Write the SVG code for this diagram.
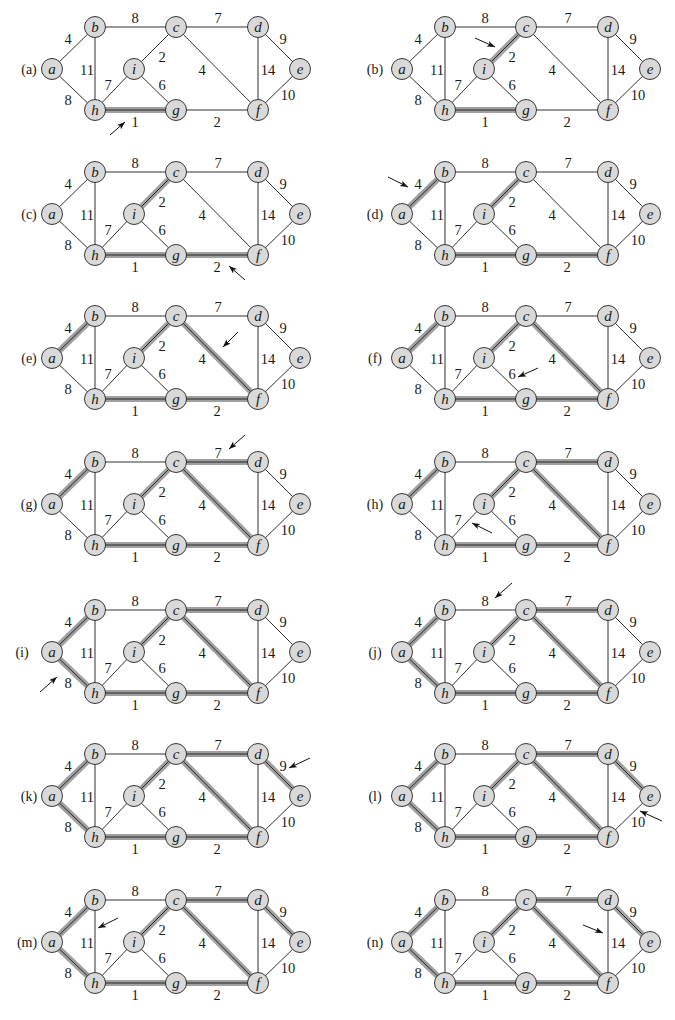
<svg xmlns="http://www.w3.org/2000/svg" width="675" height="1020" viewBox="0 0 675 1020">
<style>
.e{stroke:#1a1a1a;stroke-width:0.9;fill:none}
.hl{stroke:#a0a0a0;stroke-width:6;fill:none}
.n circle{fill:#d9d9d9;stroke:#222;stroke-width:0.9}
.nl{font-family:"Liberation Serif",serif;font-style:italic;font-size:15px;text-anchor:middle;fill:#1a1a1a}
.w{font-family:"Liberation Serif",serif;font-size:14.5px;text-anchor:middle;fill:#1a1a1a}
.pl{font-family:"Liberation Serif",serif;font-size:14px;text-anchor:middle;fill:#1a1a1a}
.arr{stroke:#111;stroke-width:1;fill:none;marker-end:url(#ah)}
</style>
<defs>
<marker id="ah" markerUnits="userSpaceOnUse" markerWidth="10" markerHeight="8" refX="8" refY="3" orient="auto">
<path d="M0,0 L8,3 L0,6 L2,3 Z" fill="#111"/>
</marker>
</defs>
<rect width="675" height="1020" fill="#fff"/>

<!-- Panel (a) -->
<g id="panel-a" transform="translate(0,0)">
<g id="pa-edges">
<line class="hl" x1="95" y1="110" x2="176" y2="110"/>
<line class="e" x1="52" y1="69" x2="95" y2="27"/><line class="e" x1="52" y1="69" x2="95" y2="110"/><line class="e" x1="95" y1="27" x2="176" y2="27"/><line class="e" x1="95" y1="27" x2="95" y2="110"/><line class="e" x1="176" y1="27" x2="258" y2="27"/><line class="e" x1="176" y1="27" x2="134" y2="69"/><line class="e" x1="176" y1="27" x2="258" y2="110"/><line class="e" x1="258" y1="27" x2="300" y2="69"/><line class="e" x1="258" y1="27" x2="258" y2="110"/><line class="e" x1="300" y1="69" x2="258" y2="110"/><line class="e" x1="258" y1="110" x2="176" y2="110"/><line class="e" x1="176" y1="110" x2="95" y2="110"/><line class="e" x1="95" y1="110" x2="134" y2="69"/><line class="e" x1="134" y1="69" x2="176" y2="110"/>
<line class="arr" x1="110" y1="135" x2="125" y2="122"/>
</g>
<g id="pa-a" class="n"><circle cx="52" cy="69" r="10.5"/><text class="nl" x="52" y="73.5">a</text></g>
<g id="pa-b" class="n"><circle cx="95" cy="27" r="10.5"/><text class="nl" x="95" y="31.5">b</text></g>
<g id="pa-c" class="n"><circle cx="176" cy="27" r="10.5"/><text class="nl" x="176" y="31.5">c</text></g>
<g id="pa-d" class="n"><circle cx="258" cy="27" r="10.5"/><text class="nl" x="258" y="31.5">d</text></g>
<g id="pa-e" class="n"><circle cx="300" cy="69" r="10.5"/><text class="nl" x="300" y="73.5">e</text></g>
<g id="pa-f" class="n"><circle cx="258" cy="110" r="10.5"/><text class="nl" x="258" y="114.5">f</text></g>
<g id="pa-g" class="n"><circle cx="176" cy="110" r="10.5"/><text class="nl" x="176" y="114.5">g</text></g>
<g id="pa-h" class="n"><circle cx="95" cy="110" r="10.5"/><text class="nl" x="95" y="114.5">h</text></g>
<g id="pa-i" class="n"><circle cx="134" cy="69" r="10.5"/><text class="nl" x="134" y="73.5">i</text></g>
<g id="pa-labels">
<text class="pl" x="29" y="73.5">(a)</text>
<text class="w" x="68" y="44">4</text><text class="w" x="68" y="105">8</text><text class="w" x="135" y="23">8</text><text class="w" x="87" y="75">11</text><text class="w" x="218" y="23">7</text><text class="w" x="162" y="62">2</text><text class="w" x="202" y="75">4</text><text class="w" x="283" y="44">9</text><text class="w" x="268" y="75">14</text><text class="w" x="288" y="100">10</text><text class="w" x="217" y="127">2</text><text class="w" x="135" y="127">1</text><text class="w" x="108" y="90">7</text><text class="w" x="162" y="90">6</text>
</g>
</g>

<!-- Panel (b) -->
<g id="panel-b" transform="translate(350,0)">
<g id="pb-edges">
<line class="hl" x1="95" y1="110" x2="176" y2="110"/><line class="hl" x1="176" y1="27" x2="134" y2="69"/>
<line class="e" x1="52" y1="69" x2="95" y2="27"/><line class="e" x1="52" y1="69" x2="95" y2="110"/><line class="e" x1="95" y1="27" x2="176" y2="27"/><line class="e" x1="95" y1="27" x2="95" y2="110"/><line class="e" x1="176" y1="27" x2="258" y2="27"/><line class="e" x1="176" y1="27" x2="134" y2="69"/><line class="e" x1="176" y1="27" x2="258" y2="110"/><line class="e" x1="258" y1="27" x2="300" y2="69"/><line class="e" x1="258" y1="27" x2="258" y2="110"/><line class="e" x1="300" y1="69" x2="258" y2="110"/><line class="e" x1="258" y1="110" x2="176" y2="110"/><line class="e" x1="176" y1="110" x2="95" y2="110"/><line class="e" x1="95" y1="110" x2="134" y2="69"/><line class="e" x1="134" y1="69" x2="176" y2="110"/>
<line class="arr" x1="125" y1="38" x2="145" y2="47"/>
</g>
<g id="pb-a" class="n"><circle cx="52" cy="69" r="10.5"/><text class="nl" x="52" y="73.5">a</text></g>
<g id="pb-b" class="n"><circle cx="95" cy="27" r="10.5"/><text class="nl" x="95" y="31.5">b</text></g>
<g id="pb-c" class="n"><circle cx="176" cy="27" r="10.5"/><text class="nl" x="176" y="31.5">c</text></g>
<g id="pb-d" class="n"><circle cx="258" cy="27" r="10.5"/><text class="nl" x="258" y="31.5">d</text></g>
<g id="pb-e" class="n"><circle cx="300" cy="69" r="10.5"/><text class="nl" x="300" y="73.5">e</text></g>
<g id="pb-f" class="n"><circle cx="258" cy="110" r="10.5"/><text class="nl" x="258" y="114.5">f</text></g>
<g id="pb-g" class="n"><circle cx="176" cy="110" r="10.5"/><text class="nl" x="176" y="114.5">g</text></g>
<g id="pb-h" class="n"><circle cx="95" cy="110" r="10.5"/><text class="nl" x="95" y="114.5">h</text></g>
<g id="pb-i" class="n"><circle cx="134" cy="69" r="10.5"/><text class="nl" x="134" y="73.5">i</text></g>
<g id="pb-labels">
<text class="pl" x="25" y="73.5">(b)</text>
<text class="w" x="68" y="44">4</text><text class="w" x="68" y="105">8</text><text class="w" x="135" y="23">8</text><text class="w" x="87" y="75">11</text><text class="w" x="218" y="23">7</text><text class="w" x="162" y="62">2</text><text class="w" x="202" y="75">4</text><text class="w" x="283" y="44">9</text><text class="w" x="268" y="75">14</text><text class="w" x="288" y="100">10</text><text class="w" x="217" y="127">2</text><text class="w" x="135" y="127">1</text><text class="w" x="108" y="90">7</text><text class="w" x="162" y="90">6</text>
</g>
</g>

<!-- Panel (c) -->
<g id="panel-c" transform="translate(0,145)">
<g id="pc-edges">
<line class="hl" x1="95" y1="110" x2="176" y2="110"/><line class="hl" x1="176" y1="27" x2="134" y2="69"/><line class="hl" x1="258" y1="110" x2="176" y2="110"/>
<line class="e" x1="52" y1="69" x2="95" y2="27"/><line class="e" x1="52" y1="69" x2="95" y2="110"/><line class="e" x1="95" y1="27" x2="176" y2="27"/><line class="e" x1="95" y1="27" x2="95" y2="110"/><line class="e" x1="176" y1="27" x2="258" y2="27"/><line class="e" x1="176" y1="27" x2="134" y2="69"/><line class="e" x1="176" y1="27" x2="258" y2="110"/><line class="e" x1="258" y1="27" x2="300" y2="69"/><line class="e" x1="258" y1="27" x2="258" y2="110"/><line class="e" x1="300" y1="69" x2="258" y2="110"/><line class="e" x1="258" y1="110" x2="176" y2="110"/><line class="e" x1="176" y1="110" x2="95" y2="110"/><line class="e" x1="95" y1="110" x2="134" y2="69"/><line class="e" x1="134" y1="69" x2="176" y2="110"/>
<line class="arr" x1="245" y1="135" x2="229" y2="121"/>
</g>
<g id="pc-a" class="n"><circle cx="52" cy="69" r="10.5"/><text class="nl" x="52" y="73.5">a</text></g>
<g id="pc-b" class="n"><circle cx="95" cy="27" r="10.5"/><text class="nl" x="95" y="31.5">b</text></g>
<g id="pc-c" class="n"><circle cx="176" cy="27" r="10.5"/><text class="nl" x="176" y="31.5">c</text></g>
<g id="pc-d" class="n"><circle cx="258" cy="27" r="10.5"/><text class="nl" x="258" y="31.5">d</text></g>
<g id="pc-e" class="n"><circle cx="300" cy="69" r="10.5"/><text class="nl" x="300" y="73.5">e</text></g>
<g id="pc-f" class="n"><circle cx="258" cy="110" r="10.5"/><text class="nl" x="258" y="114.5">f</text></g>
<g id="pc-g" class="n"><circle cx="176" cy="110" r="10.5"/><text class="nl" x="176" y="114.5">g</text></g>
<g id="pc-h" class="n"><circle cx="95" cy="110" r="10.5"/><text class="nl" x="95" y="114.5">h</text></g>
<g id="pc-i" class="n"><circle cx="134" cy="69" r="10.5"/><text class="nl" x="134" y="73.5">i</text></g>
<g id="pc-labels">
<text class="pl" x="29" y="73.5">(c)</text>
<text class="w" x="68" y="44">4</text><text class="w" x="68" y="105">8</text><text class="w" x="135" y="23">8</text><text class="w" x="87" y="75">11</text><text class="w" x="218" y="23">7</text><text class="w" x="162" y="62">2</text><text class="w" x="202" y="75">4</text><text class="w" x="283" y="44">9</text><text class="w" x="268" y="75">14</text><text class="w" x="288" y="100">10</text><text class="w" x="217" y="127">2</text><text class="w" x="135" y="127">1</text><text class="w" x="108" y="90">7</text><text class="w" x="162" y="90">6</text>
</g>
</g>

<!-- Panel (d) -->
<g id="panel-d" transform="translate(350,145)">
<g id="pd-edges">
<line class="hl" x1="95" y1="110" x2="176" y2="110"/><line class="hl" x1="176" y1="27" x2="134" y2="69"/><line class="hl" x1="258" y1="110" x2="176" y2="110"/><line class="hl" x1="52" y1="69" x2="95" y2="27"/>
<line class="e" x1="52" y1="69" x2="95" y2="27"/><line class="e" x1="52" y1="69" x2="95" y2="110"/><line class="e" x1="95" y1="27" x2="176" y2="27"/><line class="e" x1="95" y1="27" x2="95" y2="110"/><line class="e" x1="176" y1="27" x2="258" y2="27"/><line class="e" x1="176" y1="27" x2="134" y2="69"/><line class="e" x1="176" y1="27" x2="258" y2="110"/><line class="e" x1="258" y1="27" x2="300" y2="69"/><line class="e" x1="258" y1="27" x2="258" y2="110"/><line class="e" x1="300" y1="69" x2="258" y2="110"/><line class="e" x1="258" y1="110" x2="176" y2="110"/><line class="e" x1="176" y1="110" x2="95" y2="110"/><line class="e" x1="95" y1="110" x2="134" y2="69"/><line class="e" x1="134" y1="69" x2="176" y2="110"/>
<line class="arr" x1="38" y1="32" x2="58" y2="42"/>
</g>
<g id="pd-a" class="n"><circle cx="52" cy="69" r="10.5"/><text class="nl" x="52" y="73.5">a</text></g>
<g id="pd-b" class="n"><circle cx="95" cy="27" r="10.5"/><text class="nl" x="95" y="31.5">b</text></g>
<g id="pd-c" class="n"><circle cx="176" cy="27" r="10.5"/><text class="nl" x="176" y="31.5">c</text></g>
<g id="pd-d" class="n"><circle cx="258" cy="27" r="10.5"/><text class="nl" x="258" y="31.5">d</text></g>
<g id="pd-e" class="n"><circle cx="300" cy="69" r="10.5"/><text class="nl" x="300" y="73.5">e</text></g>
<g id="pd-f" class="n"><circle cx="258" cy="110" r="10.5"/><text class="nl" x="258" y="114.5">f</text></g>
<g id="pd-g" class="n"><circle cx="176" cy="110" r="10.5"/><text class="nl" x="176" y="114.5">g</text></g>
<g id="pd-h" class="n"><circle cx="95" cy="110" r="10.5"/><text class="nl" x="95" y="114.5">h</text></g>
<g id="pd-i" class="n"><circle cx="134" cy="69" r="10.5"/><text class="nl" x="134" y="73.5">i</text></g>
<g id="pd-labels">
<text class="pl" x="25" y="73.5">(d)</text>
<text class="w" x="68" y="44">4</text><text class="w" x="68" y="105">8</text><text class="w" x="135" y="23">8</text><text class="w" x="87" y="75">11</text><text class="w" x="218" y="23">7</text><text class="w" x="162" y="62">2</text><text class="w" x="202" y="75">4</text><text class="w" x="283" y="44">9</text><text class="w" x="268" y="75">14</text><text class="w" x="288" y="100">10</text><text class="w" x="217" y="127">2</text><text class="w" x="135" y="127">1</text><text class="w" x="108" y="90">7</text><text class="w" x="162" y="90">6</text>
</g>
</g>

<!-- Panel (e) -->
<g id="panel-e" transform="translate(0,289)">
<g id="pe-edges">
<line class="hl" x1="95" y1="110" x2="176" y2="110"/><line class="hl" x1="176" y1="27" x2="134" y2="69"/><line class="hl" x1="258" y1="110" x2="176" y2="110"/><line class="hl" x1="52" y1="69" x2="95" y2="27"/><line class="hl" x1="176" y1="27" x2="258" y2="110"/>
<line class="e" x1="52" y1="69" x2="95" y2="27"/><line class="e" x1="52" y1="69" x2="95" y2="110"/><line class="e" x1="95" y1="27" x2="176" y2="27"/><line class="e" x1="95" y1="27" x2="95" y2="110"/><line class="e" x1="176" y1="27" x2="258" y2="27"/><line class="e" x1="176" y1="27" x2="134" y2="69"/><line class="e" x1="176" y1="27" x2="258" y2="110"/><line class="e" x1="258" y1="27" x2="300" y2="69"/><line class="e" x1="258" y1="27" x2="258" y2="110"/><line class="e" x1="300" y1="69" x2="258" y2="110"/><line class="e" x1="258" y1="110" x2="176" y2="110"/><line class="e" x1="176" y1="110" x2="95" y2="110"/><line class="e" x1="95" y1="110" x2="134" y2="69"/><line class="e" x1="134" y1="69" x2="176" y2="110"/>
<line class="arr" x1="238" y1="43" x2="223" y2="58"/>
</g>
<g id="pe-a" class="n"><circle cx="52" cy="69" r="10.5"/><text class="nl" x="52" y="73.5">a</text></g>
<g id="pe-b" class="n"><circle cx="95" cy="27" r="10.5"/><text class="nl" x="95" y="31.5">b</text></g>
<g id="pe-c" class="n"><circle cx="176" cy="27" r="10.5"/><text class="nl" x="176" y="31.5">c</text></g>
<g id="pe-d" class="n"><circle cx="258" cy="27" r="10.5"/><text class="nl" x="258" y="31.5">d</text></g>
<g id="pe-e" class="n"><circle cx="300" cy="69" r="10.5"/><text class="nl" x="300" y="73.5">e</text></g>
<g id="pe-f" class="n"><circle cx="258" cy="110" r="10.5"/><text class="nl" x="258" y="114.5">f</text></g>
<g id="pe-g" class="n"><circle cx="176" cy="110" r="10.5"/><text class="nl" x="176" y="114.5">g</text></g>
<g id="pe-h" class="n"><circle cx="95" cy="110" r="10.5"/><text class="nl" x="95" y="114.5">h</text></g>
<g id="pe-i" class="n"><circle cx="134" cy="69" r="10.5"/><text class="nl" x="134" y="73.5">i</text></g>
<g id="pe-labels">
<text class="pl" x="29" y="73.5">(e)</text>
<text class="w" x="68" y="44">4</text><text class="w" x="68" y="105">8</text><text class="w" x="135" y="23">8</text><text class="w" x="87" y="75">11</text><text class="w" x="218" y="23">7</text><text class="w" x="162" y="62">2</text><text class="w" x="202" y="75">4</text><text class="w" x="283" y="44">9</text><text class="w" x="268" y="75">14</text><text class="w" x="288" y="100">10</text><text class="w" x="217" y="127">2</text><text class="w" x="135" y="127">1</text><text class="w" x="108" y="90">7</text><text class="w" x="162" y="90">6</text>
</g>
</g>

<!-- Panel (f) -->
<g id="panel-f" transform="translate(350,289)">
<g id="pf-edges">
<line class="hl" x1="95" y1="110" x2="176" y2="110"/><line class="hl" x1="176" y1="27" x2="134" y2="69"/><line class="hl" x1="258" y1="110" x2="176" y2="110"/><line class="hl" x1="52" y1="69" x2="95" y2="27"/><line class="hl" x1="176" y1="27" x2="258" y2="110"/>
<line class="e" x1="52" y1="69" x2="95" y2="27"/><line class="e" x1="52" y1="69" x2="95" y2="110"/><line class="e" x1="95" y1="27" x2="176" y2="27"/><line class="e" x1="95" y1="27" x2="95" y2="110"/><line class="e" x1="176" y1="27" x2="258" y2="27"/><line class="e" x1="176" y1="27" x2="134" y2="69"/><line class="e" x1="176" y1="27" x2="258" y2="110"/><line class="e" x1="258" y1="27" x2="300" y2="69"/><line class="e" x1="258" y1="27" x2="258" y2="110"/><line class="e" x1="300" y1="69" x2="258" y2="110"/><line class="e" x1="258" y1="110" x2="176" y2="110"/><line class="e" x1="176" y1="110" x2="95" y2="110"/><line class="e" x1="95" y1="110" x2="134" y2="69"/><line class="e" x1="134" y1="69" x2="176" y2="110"/>
<line class="arr" x1="188" y1="79" x2="168" y2="88"/>
</g>
<g id="pf-a" class="n"><circle cx="52" cy="69" r="10.5"/><text class="nl" x="52" y="73.5">a</text></g>
<g id="pf-b" class="n"><circle cx="95" cy="27" r="10.5"/><text class="nl" x="95" y="31.5">b</text></g>
<g id="pf-c" class="n"><circle cx="176" cy="27" r="10.5"/><text class="nl" x="176" y="31.5">c</text></g>
<g id="pf-d" class="n"><circle cx="258" cy="27" r="10.5"/><text class="nl" x="258" y="31.5">d</text></g>
<g id="pf-e" class="n"><circle cx="300" cy="69" r="10.5"/><text class="nl" x="300" y="73.5">e</text></g>
<g id="pf-f" class="n"><circle cx="258" cy="110" r="10.5"/><text class="nl" x="258" y="114.5">f</text></g>
<g id="pf-g" class="n"><circle cx="176" cy="110" r="10.5"/><text class="nl" x="176" y="114.5">g</text></g>
<g id="pf-h" class="n"><circle cx="95" cy="110" r="10.5"/><text class="nl" x="95" y="114.5">h</text></g>
<g id="pf-i" class="n"><circle cx="134" cy="69" r="10.5"/><text class="nl" x="134" y="73.5">i</text></g>
<g id="pf-labels">
<text class="pl" x="25" y="73.5">(f)</text>
<text class="w" x="68" y="44">4</text><text class="w" x="68" y="105">8</text><text class="w" x="135" y="23">8</text><text class="w" x="87" y="75">11</text><text class="w" x="218" y="23">7</text><text class="w" x="162" y="62">2</text><text class="w" x="202" y="75">4</text><text class="w" x="283" y="44">9</text><text class="w" x="268" y="75">14</text><text class="w" x="288" y="100">10</text><text class="w" x="217" y="127">2</text><text class="w" x="135" y="127">1</text><text class="w" x="108" y="90">7</text><text class="w" x="162" y="90">6</text>
</g>
</g>

<!-- Panel (g) -->
<g id="panel-g" transform="translate(0,435)">
<g id="pg-edges">
<line class="hl" x1="95" y1="110" x2="176" y2="110"/><line class="hl" x1="176" y1="27" x2="134" y2="69"/><line class="hl" x1="258" y1="110" x2="176" y2="110"/><line class="hl" x1="52" y1="69" x2="95" y2="27"/><line class="hl" x1="176" y1="27" x2="258" y2="110"/><line class="hl" x1="176" y1="27" x2="258" y2="27"/>
<line class="e" x1="52" y1="69" x2="95" y2="27"/><line class="e" x1="52" y1="69" x2="95" y2="110"/><line class="e" x1="95" y1="27" x2="176" y2="27"/><line class="e" x1="95" y1="27" x2="95" y2="110"/><line class="e" x1="176" y1="27" x2="258" y2="27"/><line class="e" x1="176" y1="27" x2="134" y2="69"/><line class="e" x1="176" y1="27" x2="258" y2="110"/><line class="e" x1="258" y1="27" x2="300" y2="69"/><line class="e" x1="258" y1="27" x2="258" y2="110"/><line class="e" x1="300" y1="69" x2="258" y2="110"/><line class="e" x1="258" y1="110" x2="176" y2="110"/><line class="e" x1="176" y1="110" x2="95" y2="110"/><line class="e" x1="95" y1="110" x2="134" y2="69"/><line class="e" x1="134" y1="69" x2="176" y2="110"/>
<line class="arr" x1="245" y1="0" x2="229" y2="14"/>
</g>
<g id="pg-a" class="n"><circle cx="52" cy="69" r="10.5"/><text class="nl" x="52" y="73.5">a</text></g>
<g id="pg-b" class="n"><circle cx="95" cy="27" r="10.5"/><text class="nl" x="95" y="31.5">b</text></g>
<g id="pg-c" class="n"><circle cx="176" cy="27" r="10.5"/><text class="nl" x="176" y="31.5">c</text></g>
<g id="pg-d" class="n"><circle cx="258" cy="27" r="10.5"/><text class="nl" x="258" y="31.5">d</text></g>
<g id="pg-e" class="n"><circle cx="300" cy="69" r="10.5"/><text class="nl" x="300" y="73.5">e</text></g>
<g id="pg-f" class="n"><circle cx="258" cy="110" r="10.5"/><text class="nl" x="258" y="114.5">f</text></g>
<g id="pg-g" class="n"><circle cx="176" cy="110" r="10.5"/><text class="nl" x="176" y="114.5">g</text></g>
<g id="pg-h" class="n"><circle cx="95" cy="110" r="10.5"/><text class="nl" x="95" y="114.5">h</text></g>
<g id="pg-i" class="n"><circle cx="134" cy="69" r="10.5"/><text class="nl" x="134" y="73.5">i</text></g>
<g id="pg-labels">
<text class="pl" x="29" y="73.5">(g)</text>
<text class="w" x="68" y="44">4</text><text class="w" x="68" y="105">8</text><text class="w" x="135" y="23">8</text><text class="w" x="87" y="75">11</text><text class="w" x="218" y="23">7</text><text class="w" x="162" y="62">2</text><text class="w" x="202" y="75">4</text><text class="w" x="283" y="44">9</text><text class="w" x="268" y="75">14</text><text class="w" x="288" y="100">10</text><text class="w" x="217" y="127">2</text><text class="w" x="135" y="127">1</text><text class="w" x="108" y="90">7</text><text class="w" x="162" y="90">6</text>
</g>
</g>

<!-- Panel (h) -->
<g id="panel-h" transform="translate(350,435)">
<g id="ph-edges">
<line class="hl" x1="95" y1="110" x2="176" y2="110"/><line class="hl" x1="176" y1="27" x2="134" y2="69"/><line class="hl" x1="258" y1="110" x2="176" y2="110"/><line class="hl" x1="52" y1="69" x2="95" y2="27"/><line class="hl" x1="176" y1="27" x2="258" y2="110"/><line class="hl" x1="176" y1="27" x2="258" y2="27"/>
<line class="e" x1="52" y1="69" x2="95" y2="27"/><line class="e" x1="52" y1="69" x2="95" y2="110"/><line class="e" x1="95" y1="27" x2="176" y2="27"/><line class="e" x1="95" y1="27" x2="95" y2="110"/><line class="e" x1="176" y1="27" x2="258" y2="27"/><line class="e" x1="176" y1="27" x2="134" y2="69"/><line class="e" x1="176" y1="27" x2="258" y2="110"/><line class="e" x1="258" y1="27" x2="300" y2="69"/><line class="e" x1="258" y1="27" x2="258" y2="110"/><line class="e" x1="300" y1="69" x2="258" y2="110"/><line class="e" x1="258" y1="110" x2="176" y2="110"/><line class="e" x1="176" y1="110" x2="95" y2="110"/><line class="e" x1="95" y1="110" x2="134" y2="69"/><line class="e" x1="134" y1="69" x2="176" y2="110"/>
<line class="arr" x1="142" y1="98" x2="122" y2="88"/>
</g>
<g id="ph-a" class="n"><circle cx="52" cy="69" r="10.5"/><text class="nl" x="52" y="73.5">a</text></g>
<g id="ph-b" class="n"><circle cx="95" cy="27" r="10.5"/><text class="nl" x="95" y="31.5">b</text></g>
<g id="ph-c" class="n"><circle cx="176" cy="27" r="10.5"/><text class="nl" x="176" y="31.5">c</text></g>
<g id="ph-d" class="n"><circle cx="258" cy="27" r="10.5"/><text class="nl" x="258" y="31.5">d</text></g>
<g id="ph-e" class="n"><circle cx="300" cy="69" r="10.5"/><text class="nl" x="300" y="73.5">e</text></g>
<g id="ph-f" class="n"><circle cx="258" cy="110" r="10.5"/><text class="nl" x="258" y="114.5">f</text></g>
<g id="ph-g" class="n"><circle cx="176" cy="110" r="10.5"/><text class="nl" x="176" y="114.5">g</text></g>
<g id="ph-h" class="n"><circle cx="95" cy="110" r="10.5"/><text class="nl" x="95" y="114.5">h</text></g>
<g id="ph-i" class="n"><circle cx="134" cy="69" r="10.5"/><text class="nl" x="134" y="73.5">i</text></g>
<g id="ph-labels">
<text class="pl" x="25" y="73.5">(h)</text>
<text class="w" x="68" y="44">4</text><text class="w" x="68" y="105">8</text><text class="w" x="135" y="23">8</text><text class="w" x="87" y="75">11</text><text class="w" x="218" y="23">7</text><text class="w" x="162" y="62">2</text><text class="w" x="202" y="75">4</text><text class="w" x="283" y="44">9</text><text class="w" x="268" y="75">14</text><text class="w" x="288" y="100">10</text><text class="w" x="217" y="127">2</text><text class="w" x="135" y="127">1</text><text class="w" x="108" y="90">7</text><text class="w" x="162" y="90">6</text>
</g>
</g>

<!-- Panel (i) -->
<g id="panel-i" transform="translate(0,583)">
<g id="pi-edges">
<line class="hl" x1="95" y1="110" x2="176" y2="110"/><line class="hl" x1="176" y1="27" x2="134" y2="69"/><line class="hl" x1="258" y1="110" x2="176" y2="110"/><line class="hl" x1="52" y1="69" x2="95" y2="27"/><line class="hl" x1="176" y1="27" x2="258" y2="110"/><line class="hl" x1="176" y1="27" x2="258" y2="27"/><line class="hl" x1="52" y1="69" x2="95" y2="110"/>
<line class="e" x1="52" y1="69" x2="95" y2="27"/><line class="e" x1="52" y1="69" x2="95" y2="110"/><line class="e" x1="95" y1="27" x2="176" y2="27"/><line class="e" x1="95" y1="27" x2="95" y2="110"/><line class="e" x1="176" y1="27" x2="258" y2="27"/><line class="e" x1="176" y1="27" x2="134" y2="69"/><line class="e" x1="176" y1="27" x2="258" y2="110"/><line class="e" x1="258" y1="27" x2="300" y2="69"/><line class="e" x1="258" y1="27" x2="258" y2="110"/><line class="e" x1="300" y1="69" x2="258" y2="110"/><line class="e" x1="258" y1="110" x2="176" y2="110"/><line class="e" x1="176" y1="110" x2="95" y2="110"/><line class="e" x1="95" y1="110" x2="134" y2="69"/><line class="e" x1="134" y1="69" x2="176" y2="110"/>
<line class="arr" x1="40" y1="109" x2="57" y2="94"/>
</g>
<g id="pi-a" class="n"><circle cx="52" cy="69" r="10.5"/><text class="nl" x="52" y="73.5">a</text></g>
<g id="pi-b" class="n"><circle cx="95" cy="27" r="10.5"/><text class="nl" x="95" y="31.5">b</text></g>
<g id="pi-c" class="n"><circle cx="176" cy="27" r="10.5"/><text class="nl" x="176" y="31.5">c</text></g>
<g id="pi-d" class="n"><circle cx="258" cy="27" r="10.5"/><text class="nl" x="258" y="31.5">d</text></g>
<g id="pi-e" class="n"><circle cx="300" cy="69" r="10.5"/><text class="nl" x="300" y="73.5">e</text></g>
<g id="pi-f" class="n"><circle cx="258" cy="110" r="10.5"/><text class="nl" x="258" y="114.5">f</text></g>
<g id="pi-g" class="n"><circle cx="176" cy="110" r="10.5"/><text class="nl" x="176" y="114.5">g</text></g>
<g id="pi-h" class="n"><circle cx="95" cy="110" r="10.5"/><text class="nl" x="95" y="114.5">h</text></g>
<g id="pi-i" class="n"><circle cx="134" cy="69" r="10.5"/><text class="nl" x="134" y="73.5">i</text></g>
<g id="pi-labels">
<text class="pl" x="22" y="73.5">(i)</text>
<text class="w" x="68" y="44">4</text><text class="w" x="68" y="105">8</text><text class="w" x="135" y="23">8</text><text class="w" x="87" y="75">11</text><text class="w" x="218" y="23">7</text><text class="w" x="162" y="62">2</text><text class="w" x="202" y="75">4</text><text class="w" x="283" y="44">9</text><text class="w" x="268" y="75">14</text><text class="w" x="288" y="100">10</text><text class="w" x="217" y="127">2</text><text class="w" x="135" y="127">1</text><text class="w" x="108" y="90">7</text><text class="w" x="162" y="90">6</text>
</g>
</g>

<!-- Panel (j) -->
<g id="panel-j" transform="translate(350,583)">
<g id="pj-edges">
<line class="hl" x1="95" y1="110" x2="176" y2="110"/><line class="hl" x1="176" y1="27" x2="134" y2="69"/><line class="hl" x1="258" y1="110" x2="176" y2="110"/><line class="hl" x1="52" y1="69" x2="95" y2="27"/><line class="hl" x1="176" y1="27" x2="258" y2="110"/><line class="hl" x1="176" y1="27" x2="258" y2="27"/><line class="hl" x1="52" y1="69" x2="95" y2="110"/>
<line class="e" x1="52" y1="69" x2="95" y2="27"/><line class="e" x1="52" y1="69" x2="95" y2="110"/><line class="e" x1="95" y1="27" x2="176" y2="27"/><line class="e" x1="95" y1="27" x2="95" y2="110"/><line class="e" x1="176" y1="27" x2="258" y2="27"/><line class="e" x1="176" y1="27" x2="134" y2="69"/><line class="e" x1="176" y1="27" x2="258" y2="110"/><line class="e" x1="258" y1="27" x2="300" y2="69"/><line class="e" x1="258" y1="27" x2="258" y2="110"/><line class="e" x1="300" y1="69" x2="258" y2="110"/><line class="e" x1="258" y1="110" x2="176" y2="110"/><line class="e" x1="176" y1="110" x2="95" y2="110"/><line class="e" x1="95" y1="110" x2="134" y2="69"/><line class="e" x1="134" y1="69" x2="176" y2="110"/>
<line class="arr" x1="162" y1="0" x2="145" y2="15"/>
</g>
<g id="pj-a" class="n"><circle cx="52" cy="69" r="10.5"/><text class="nl" x="52" y="73.5">a</text></g>
<g id="pj-b" class="n"><circle cx="95" cy="27" r="10.5"/><text class="nl" x="95" y="31.5">b</text></g>
<g id="pj-c" class="n"><circle cx="176" cy="27" r="10.5"/><text class="nl" x="176" y="31.5">c</text></g>
<g id="pj-d" class="n"><circle cx="258" cy="27" r="10.5"/><text class="nl" x="258" y="31.5">d</text></g>
<g id="pj-e" class="n"><circle cx="300" cy="69" r="10.5"/><text class="nl" x="300" y="73.5">e</text></g>
<g id="pj-f" class="n"><circle cx="258" cy="110" r="10.5"/><text class="nl" x="258" y="114.5">f</text></g>
<g id="pj-g" class="n"><circle cx="176" cy="110" r="10.5"/><text class="nl" x="176" y="114.5">g</text></g>
<g id="pj-h" class="n"><circle cx="95" cy="110" r="10.5"/><text class="nl" x="95" y="114.5">h</text></g>
<g id="pj-i" class="n"><circle cx="134" cy="69" r="10.5"/><text class="nl" x="134" y="73.5">i</text></g>
<g id="pj-labels">
<text class="pl" x="25" y="73.5">(j)</text>
<text class="w" x="68" y="44">4</text><text class="w" x="68" y="105">8</text><text class="w" x="135" y="23">8</text><text class="w" x="87" y="75">11</text><text class="w" x="218" y="23">7</text><text class="w" x="162" y="62">2</text><text class="w" x="202" y="75">4</text><text class="w" x="283" y="44">9</text><text class="w" x="268" y="75">14</text><text class="w" x="288" y="100">10</text><text class="w" x="217" y="127">2</text><text class="w" x="135" y="127">1</text><text class="w" x="108" y="90">7</text><text class="w" x="162" y="90">6</text>
</g>
</g>

<!-- Panel (k) -->
<g id="panel-k" transform="translate(0,727)">
<g id="pk-edges">
<line class="hl" x1="95" y1="110" x2="176" y2="110"/><line class="hl" x1="176" y1="27" x2="134" y2="69"/><line class="hl" x1="258" y1="110" x2="176" y2="110"/><line class="hl" x1="52" y1="69" x2="95" y2="27"/><line class="hl" x1="176" y1="27" x2="258" y2="110"/><line class="hl" x1="176" y1="27" x2="258" y2="27"/><line class="hl" x1="52" y1="69" x2="95" y2="110"/><line class="hl" x1="258" y1="27" x2="300" y2="69"/>
<line class="e" x1="52" y1="69" x2="95" y2="27"/><line class="e" x1="52" y1="69" x2="95" y2="110"/><line class="e" x1="95" y1="27" x2="176" y2="27"/><line class="e" x1="95" y1="27" x2="95" y2="110"/><line class="e" x1="176" y1="27" x2="258" y2="27"/><line class="e" x1="176" y1="27" x2="134" y2="69"/><line class="e" x1="176" y1="27" x2="258" y2="110"/><line class="e" x1="258" y1="27" x2="300" y2="69"/><line class="e" x1="258" y1="27" x2="258" y2="110"/><line class="e" x1="300" y1="69" x2="258" y2="110"/><line class="e" x1="258" y1="110" x2="176" y2="110"/><line class="e" x1="176" y1="110" x2="95" y2="110"/><line class="e" x1="95" y1="110" x2="134" y2="69"/><line class="e" x1="134" y1="69" x2="176" y2="110"/>
<line class="arr" x1="310" y1="31" x2="289" y2="41"/>
</g>
<g id="pk-a" class="n"><circle cx="52" cy="69" r="10.5"/><text class="nl" x="52" y="73.5">a</text></g>
<g id="pk-b" class="n"><circle cx="95" cy="27" r="10.5"/><text class="nl" x="95" y="31.5">b</text></g>
<g id="pk-c" class="n"><circle cx="176" cy="27" r="10.5"/><text class="nl" x="176" y="31.5">c</text></g>
<g id="pk-d" class="n"><circle cx="258" cy="27" r="10.5"/><text class="nl" x="258" y="31.5">d</text></g>
<g id="pk-e" class="n"><circle cx="300" cy="69" r="10.5"/><text class="nl" x="300" y="73.5">e</text></g>
<g id="pk-f" class="n"><circle cx="258" cy="110" r="10.5"/><text class="nl" x="258" y="114.5">f</text></g>
<g id="pk-g" class="n"><circle cx="176" cy="110" r="10.5"/><text class="nl" x="176" y="114.5">g</text></g>
<g id="pk-h" class="n"><circle cx="95" cy="110" r="10.5"/><text class="nl" x="95" y="114.5">h</text></g>
<g id="pk-i" class="n"><circle cx="134" cy="69" r="10.5"/><text class="nl" x="134" y="73.5">i</text></g>
<g id="pk-labels">
<text class="pl" x="29" y="73.5">(k)</text>
<text class="w" x="68" y="44">4</text><text class="w" x="68" y="105">8</text><text class="w" x="135" y="23">8</text><text class="w" x="87" y="75">11</text><text class="w" x="218" y="23">7</text><text class="w" x="162" y="62">2</text><text class="w" x="202" y="75">4</text><text class="w" x="283" y="44">9</text><text class="w" x="268" y="75">14</text><text class="w" x="288" y="100">10</text><text class="w" x="217" y="127">2</text><text class="w" x="135" y="127">1</text><text class="w" x="108" y="90">7</text><text class="w" x="162" y="90">6</text>
</g>
</g>

<!-- Panel (l) -->
<g id="panel-l" transform="translate(350,727)">
<g id="pl-edges">
<line class="hl" x1="95" y1="110" x2="176" y2="110"/><line class="hl" x1="176" y1="27" x2="134" y2="69"/><line class="hl" x1="258" y1="110" x2="176" y2="110"/><line class="hl" x1="52" y1="69" x2="95" y2="27"/><line class="hl" x1="176" y1="27" x2="258" y2="110"/><line class="hl" x1="176" y1="27" x2="258" y2="27"/><line class="hl" x1="52" y1="69" x2="95" y2="110"/><line class="hl" x1="258" y1="27" x2="300" y2="69"/>
<line class="e" x1="52" y1="69" x2="95" y2="27"/><line class="e" x1="52" y1="69" x2="95" y2="110"/><line class="e" x1="95" y1="27" x2="176" y2="27"/><line class="e" x1="95" y1="27" x2="95" y2="110"/><line class="e" x1="176" y1="27" x2="258" y2="27"/><line class="e" x1="176" y1="27" x2="134" y2="69"/><line class="e" x1="176" y1="27" x2="258" y2="110"/><line class="e" x1="258" y1="27" x2="300" y2="69"/><line class="e" x1="258" y1="27" x2="258" y2="110"/><line class="e" x1="300" y1="69" x2="258" y2="110"/><line class="e" x1="258" y1="110" x2="176" y2="110"/><line class="e" x1="176" y1="110" x2="95" y2="110"/><line class="e" x1="95" y1="110" x2="134" y2="69"/><line class="e" x1="134" y1="69" x2="176" y2="110"/>
<line class="arr" x1="312" y1="94" x2="290" y2="84"/>
</g>
<g id="pl-a" class="n"><circle cx="52" cy="69" r="10.5"/><text class="nl" x="52" y="73.5">a</text></g>
<g id="pl-b" class="n"><circle cx="95" cy="27" r="10.5"/><text class="nl" x="95" y="31.5">b</text></g>
<g id="pl-c" class="n"><circle cx="176" cy="27" r="10.5"/><text class="nl" x="176" y="31.5">c</text></g>
<g id="pl-d" class="n"><circle cx="258" cy="27" r="10.5"/><text class="nl" x="258" y="31.5">d</text></g>
<g id="pl-e" class="n"><circle cx="300" cy="69" r="10.5"/><text class="nl" x="300" y="73.5">e</text></g>
<g id="pl-f" class="n"><circle cx="258" cy="110" r="10.5"/><text class="nl" x="258" y="114.5">f</text></g>
<g id="pl-g" class="n"><circle cx="176" cy="110" r="10.5"/><text class="nl" x="176" y="114.5">g</text></g>
<g id="pl-h" class="n"><circle cx="95" cy="110" r="10.5"/><text class="nl" x="95" y="114.5">h</text></g>
<g id="pl-i" class="n"><circle cx="134" cy="69" r="10.5"/><text class="nl" x="134" y="73.5">i</text></g>
<g id="pl-labels">
<text class="pl" x="25" y="73.5">(l)</text>
<text class="w" x="68" y="44">4</text><text class="w" x="68" y="105">8</text><text class="w" x="135" y="23">8</text><text class="w" x="87" y="75">11</text><text class="w" x="218" y="23">7</text><text class="w" x="162" y="62">2</text><text class="w" x="202" y="75">4</text><text class="w" x="283" y="44">9</text><text class="w" x="268" y="75">14</text><text class="w" x="288" y="100">10</text><text class="w" x="217" y="127">2</text><text class="w" x="135" y="127">1</text><text class="w" x="108" y="90">7</text><text class="w" x="162" y="90">6</text>
</g>
</g>

<!-- Panel (m) -->
<g id="panel-m" transform="translate(0,873)">
<g id="pm-edges">
<line class="hl" x1="95" y1="110" x2="176" y2="110"/><line class="hl" x1="176" y1="27" x2="134" y2="69"/><line class="hl" x1="258" y1="110" x2="176" y2="110"/><line class="hl" x1="52" y1="69" x2="95" y2="27"/><line class="hl" x1="176" y1="27" x2="258" y2="110"/><line class="hl" x1="176" y1="27" x2="258" y2="27"/><line class="hl" x1="52" y1="69" x2="95" y2="110"/><line class="hl" x1="258" y1="27" x2="300" y2="69"/>
<line class="e" x1="52" y1="69" x2="95" y2="27"/><line class="e" x1="52" y1="69" x2="95" y2="110"/><line class="e" x1="95" y1="27" x2="176" y2="27"/><line class="e" x1="95" y1="27" x2="95" y2="110"/><line class="e" x1="176" y1="27" x2="258" y2="27"/><line class="e" x1="176" y1="27" x2="134" y2="69"/><line class="e" x1="176" y1="27" x2="258" y2="110"/><line class="e" x1="258" y1="27" x2="300" y2="69"/><line class="e" x1="258" y1="27" x2="258" y2="110"/><line class="e" x1="300" y1="69" x2="258" y2="110"/><line class="e" x1="258" y1="110" x2="176" y2="110"/><line class="e" x1="176" y1="110" x2="95" y2="110"/><line class="e" x1="95" y1="110" x2="134" y2="69"/><line class="e" x1="134" y1="69" x2="176" y2="110"/>
<line class="arr" x1="118" y1="45" x2="98" y2="55"/>
</g>
<g id="pm-a" class="n"><circle cx="52" cy="69" r="10.5"/><text class="nl" x="52" y="73.5">a</text></g>
<g id="pm-b" class="n"><circle cx="95" cy="27" r="10.5"/><text class="nl" x="95" y="31.5">b</text></g>
<g id="pm-c" class="n"><circle cx="176" cy="27" r="10.5"/><text class="nl" x="176" y="31.5">c</text></g>
<g id="pm-d" class="n"><circle cx="258" cy="27" r="10.5"/><text class="nl" x="258" y="31.5">d</text></g>
<g id="pm-e" class="n"><circle cx="300" cy="69" r="10.5"/><text class="nl" x="300" y="73.5">e</text></g>
<g id="pm-f" class="n"><circle cx="258" cy="110" r="10.5"/><text class="nl" x="258" y="114.5">f</text></g>
<g id="pm-g" class="n"><circle cx="176" cy="110" r="10.5"/><text class="nl" x="176" y="114.5">g</text></g>
<g id="pm-h" class="n"><circle cx="95" cy="110" r="10.5"/><text class="nl" x="95" y="114.5">h</text></g>
<g id="pm-i" class="n"><circle cx="134" cy="69" r="10.5"/><text class="nl" x="134" y="73.5">i</text></g>
<g id="pm-labels">
<text class="pl" x="27" y="73.5">(m)</text>
<text class="w" x="68" y="44">4</text><text class="w" x="68" y="105">8</text><text class="w" x="135" y="23">8</text><text class="w" x="87" y="75">11</text><text class="w" x="218" y="23">7</text><text class="w" x="162" y="62">2</text><text class="w" x="202" y="75">4</text><text class="w" x="283" y="44">9</text><text class="w" x="268" y="75">14</text><text class="w" x="288" y="100">10</text><text class="w" x="217" y="127">2</text><text class="w" x="135" y="127">1</text><text class="w" x="108" y="90">7</text><text class="w" x="162" y="90">6</text>
</g>
</g>

<!-- Panel (n) -->
<g id="panel-n" transform="translate(350,873)">
<g id="pn-edges">
<line class="hl" x1="95" y1="110" x2="176" y2="110"/><line class="hl" x1="176" y1="27" x2="134" y2="69"/><line class="hl" x1="258" y1="110" x2="176" y2="110"/><line class="hl" x1="52" y1="69" x2="95" y2="27"/><line class="hl" x1="176" y1="27" x2="258" y2="110"/><line class="hl" x1="176" y1="27" x2="258" y2="27"/><line class="hl" x1="52" y1="69" x2="95" y2="110"/><line class="hl" x1="258" y1="27" x2="300" y2="69"/>
<line class="e" x1="52" y1="69" x2="95" y2="27"/><line class="e" x1="52" y1="69" x2="95" y2="110"/><line class="e" x1="95" y1="27" x2="176" y2="27"/><line class="e" x1="95" y1="27" x2="95" y2="110"/><line class="e" x1="176" y1="27" x2="258" y2="27"/><line class="e" x1="176" y1="27" x2="134" y2="69"/><line class="e" x1="176" y1="27" x2="258" y2="110"/><line class="e" x1="258" y1="27" x2="300" y2="69"/><line class="e" x1="258" y1="27" x2="258" y2="110"/><line class="e" x1="300" y1="69" x2="258" y2="110"/><line class="e" x1="258" y1="110" x2="176" y2="110"/><line class="e" x1="176" y1="110" x2="95" y2="110"/><line class="e" x1="95" y1="110" x2="134" y2="69"/><line class="e" x1="134" y1="69" x2="176" y2="110"/>
<line class="arr" x1="233" y1="52" x2="253" y2="60"/>
</g>
<g id="pn-a" class="n"><circle cx="52" cy="69" r="10.5"/><text class="nl" x="52" y="73.5">a</text></g>
<g id="pn-b" class="n"><circle cx="95" cy="27" r="10.5"/><text class="nl" x="95" y="31.5">b</text></g>
<g id="pn-c" class="n"><circle cx="176" cy="27" r="10.5"/><text class="nl" x="176" y="31.5">c</text></g>
<g id="pn-d" class="n"><circle cx="258" cy="27" r="10.5"/><text class="nl" x="258" y="31.5">d</text></g>
<g id="pn-e" class="n"><circle cx="300" cy="69" r="10.5"/><text class="nl" x="300" y="73.5">e</text></g>
<g id="pn-f" class="n"><circle cx="258" cy="110" r="10.5"/><text class="nl" x="258" y="114.5">f</text></g>
<g id="pn-g" class="n"><circle cx="176" cy="110" r="10.5"/><text class="nl" x="176" y="114.5">g</text></g>
<g id="pn-h" class="n"><circle cx="95" cy="110" r="10.5"/><text class="nl" x="95" y="114.5">h</text></g>
<g id="pn-i" class="n"><circle cx="134" cy="69" r="10.5"/><text class="nl" x="134" y="73.5">i</text></g>
<g id="pn-labels">
<text class="pl" x="25" y="73.5">(n)</text>
<text class="w" x="68" y="44">4</text><text class="w" x="68" y="105">8</text><text class="w" x="135" y="23">8</text><text class="w" x="87" y="75">11</text><text class="w" x="218" y="23">7</text><text class="w" x="162" y="62">2</text><text class="w" x="202" y="75">4</text><text class="w" x="283" y="44">9</text><text class="w" x="268" y="75">14</text><text class="w" x="288" y="100">10</text><text class="w" x="217" y="127">2</text><text class="w" x="135" y="127">1</text><text class="w" x="108" y="90">7</text><text class="w" x="162" y="90">6</text>
</g>
</g>
</svg>
